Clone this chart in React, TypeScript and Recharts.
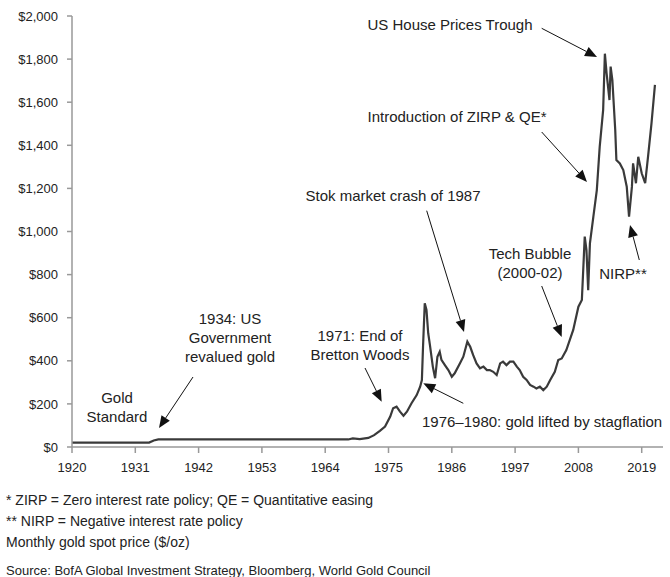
import React from 'react';
import { LineChart, Line, XAxis, YAxis } from 'recharts';

const years = [
  1920.0, 1933.4, 1934.2, 1935.0, 1968.0, 1968.8, 1970.0, 1971.5, 1972.5, 1973.5,
  1974.4, 1975.3, 1975.8, 1976.4, 1977.0, 1977.6, 1978.2, 1979.0, 1979.9, 1980.5,
  1980.8, 1981.0, 1981.3, 1981.6, 1981.9, 1982.2, 1982.7, 1983.1, 1983.5, 1983.9,
  1984.2, 1984.8, 1985.4, 1986.0, 1986.5, 1987.4, 1988.0, 1988.7, 1989.2, 1989.7,
  1990.3, 1990.9, 1991.5, 1992.1, 1992.6, 1993.2, 1993.8, 1994.4, 1994.9, 1995.5,
  1996.1, 1996.7, 1997.3, 1997.8, 1998.4, 1999.0, 1999.6, 2000.2, 2000.7, 2001.3,
  2001.9, 2002.5, 2003.1, 2003.9, 2004.5, 2005.1, 2005.9, 2007.1, 2008.0, 2008.6,
  2009.1, 2009.4, 2009.7, 2010.0, 2010.6, 2011.2, 2011.7, 2012.3, 2012.6, 2012.9,
  2013.4, 2013.6, 2013.9, 2014.4, 2014.6, 2015.2, 2015.8, 2016.4, 2016.8, 2017.3,
  2017.5, 2018.0, 2018.4, 2019.0, 2019.6, 2020.1, 2020.7, 2021.3,
];

const prices = [
  20.7, 20.7, 30, 35, 35, 40, 37, 42, 55, 75,
  95, 141, 180, 187, 164, 145, 164, 203, 241, 280,
  311, 465, 667, 636, 528, 473, 373, 319, 419, 442,
  404, 380, 357, 326, 342, 388, 419, 489, 465, 427,
  388, 365, 373, 357, 357, 349, 334, 388, 396, 380,
  396, 396, 373, 357, 326, 311, 288, 280, 272, 280,
  264, 280, 311, 349, 404, 411, 450, 543, 651, 682,
  976, 914, 728, 945, 1069, 1192, 1393, 1564, 1825, 1734,
  1610, 1765, 1703, 1471, 1332, 1316, 1285, 1208, 1069, 1208,
  1316, 1224, 1347, 1270, 1224, 1347, 1502, 1680,
];

const xTicks = [1920, 1931, 1942, 1953, 1964, 1975, 1986, 1997, 2008, 2019];
const yTicks = [0, 200, 400, 600, 800, 1000, 1200, 1400, 1600, 1800, 2000];

const footnotes = [
  '* ZIRP = Zero interest rate policy; QE = Quantitative easing',
  '** NIRP = Negative interest rate policy',
  'Monthly gold spot price ($/oz)',
  'Source: BofA Global Investment Strategy, Bloomberg, World Gold Council',
];
const footnoteY = [500, 521, 542, 570];
const footnoteSize = [14, 14, 14, 13];

const labels = [
  { lines: ['US House Prices Trough'], x: 450, y: 25, anchor: 'middle' },
  { lines: ['Introduction of ZIRP & QE*'], x: 457, y: 117, anchor: 'middle' },
  { lines: ['Stok market crash of 1987'], x: 393, y: 196, anchor: 'middle' },
  { lines: ['Tech Bubble', '(2000-02)'], x: 530, y: 254, anchor: 'middle' },
  { lines: ['NIRP**'], x: 623, y: 274, anchor: 'middle' },
  { lines: ['1971: End of', 'Bretton Woods'], x: 360, y: 336, anchor: 'middle' },
  { lines: ['1976\u20131980: gold lifted by stagflation'], x: 422, y: 422, anchor: 'start' },
  { lines: ['Gold', 'Standard'], x: 117, y: 398, anchor: 'middle' },
  { lines: ['1934: US', 'Government', 'revalued gold'], x: 230, y: 319, anchor: 'middle' },
];

const arrows = [
  [541.7, 28.3, 597, 57],
  [541.7, 132, 587, 182],
  [426.7, 210.7, 464, 332],
  [541.7, 286, 561.7, 337],
  [639.3, 260, 630, 225],
  [365, 368, 381.7, 401.7],
  [463.3, 403.3, 423.3, 383.3],
  [193, 377, 159, 428],
];

const data = years.map((y, i) => ({ year: y, price: prices[i] }));

const FONT = '"Liberation Sans", Arial, Helvetica, sans-serif';

function Arrow({ a }: { a: number[] }) {
  const [x1, y1, x2, y2] = a;
  const dx = x2 - x1;
  const dy = y2 - y1;
  const len = Math.sqrt(dx * dx + dy * dy);
  const ux = dx / len;
  const uy = dy / len;
  const hl = 12;
  const hw = 5;
  const bx = x2 - ux * hl;
  const by = y2 - uy * hl;
  const px = -uy;
  const py = ux;
  return (
    <g>
      <line x1={x1} y1={y1} x2={bx} y2={by} stroke="#111" strokeWidth={1} />
      <polygon
        points={`${x2},${y2} ${bx + px * hw},${by + py * hw} ${bx - px * hw},${by - py * hw}`}
        fill="#111"
      />
    </g>
  );
}

export default function App() {
  return (
    <div style={{ position: 'absolute', left: 0, top: 0, width: 670, height: 577, background: '#fff', fontFamily: FONT }}>
      <LineChart
        width={670}
        height={480}
        data={data}
        margin={{ top: 16, right: 7, left: 0, bottom: 0 }}
      >
        <XAxis
          dataKey="year"
          type="number"
          domain={[1920, 2022.7]}
          ticks={xTicks}
          interval={0}
          height={33}
          tickSize={6}
          tickMargin={10}
          axisLine={{ stroke: '#999', strokeWidth: 1.5 }}
          tickLine={{ stroke: '#999', strokeWidth: 1.5 }}
          tick={{ fill: '#222', fontSize: 13, fontFamily: FONT }}
        />
        <YAxis
          type="number"
          domain={[0, 2000]}
          ticks={yTicks}
          interval={0}
          width={72}
          tickSize={5}
          tickMargin={9}
          axisLine={{ stroke: '#999', strokeWidth: 1.5 }}
          tickLine={{ stroke: '#999', strokeWidth: 1.5 }}
          tick={{ fill: '#222', fontSize: 13, fontFamily: FONT }}
          tickFormatter={(v: number) => '$' + v.toLocaleString('en-US')}
        />
        <Line
          type="linear"
          dataKey="price"
          stroke="#3a3a3a"
          strokeWidth={2.2}
          dot={false}
          isAnimationActive={false}
        />
      </LineChart>
      <svg
        width={670}
        height={577}
        style={{ position: 'absolute', left: 0, top: 0, pointerEvents: 'none' }}
      >
        {labels.map((l, i) => (
          <text key={i} x={l.x} y={l.y} textAnchor={l.anchor as any} fontSize={15} fill="#222" fontFamily={FONT}>
            {l.lines.map((t, j) => (
              <tspan key={j} x={l.x} y={l.y + j * 19} dy="0.35em">{t}</tspan>
            ))}
          </text>
        ))}
        {arrows.map((a, i) => (
          <Arrow key={i} a={a} />
        ))}
        {footnotes.map((t, i) => (
          <text key={i} x={6} y={footnoteY[i]} dy="0.35em" fontSize={footnoteSize[i]} fill="#222" fontFamily={FONT}>
            {t}
          </text>
        ))}
      </svg>
    </div>
  );
}
